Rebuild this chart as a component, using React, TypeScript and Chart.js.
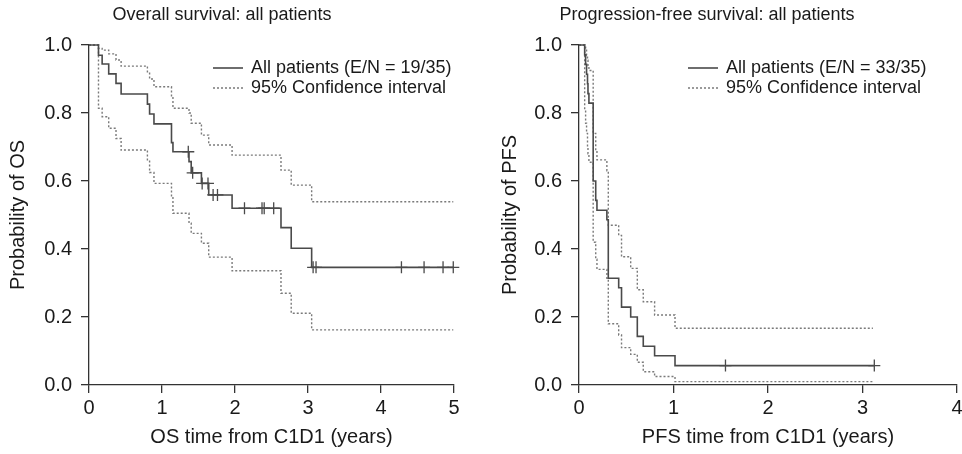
import React, { useEffect, useRef } from 'react';
import { Chart, registerables } from 'chart.js';

Chart.register(...registerables);

const FONT = '"Liberation Sans", Arial, Helvetica, sans-serif';
const TEXT = '#1a1a1a';
const AXIS = '#333333';
const MAIN = '#4a4a4a';
const CI = '#7a7a7a';

// ---------- Overall survival ----------
const osEventTimes = [0, 0.13, 0.18, 0.27, 0.37, 0.44, 0.8, 0.83, 0.89, 1.13, 1.15, 1.37, 1.4, 1.54, 1.64, 1.96, 2.63, 2.77, 3.05];
const osSurvival = [1, 0.97, 0.944, 0.915, 0.887, 0.856, 0.826, 0.797, 0.768, 0.713, 0.686, 0.657, 0.624, 0.593, 0.559, 0.52, 0.463, 0.402, 0.346];
const osUpper = [1, 0.99, 0.985, 0.974, 0.956, 0.938, 0.921, 0.9, 0.877, 0.848, 0.814, 0.8, 0.77, 0.735, 0.706, 0.676, 0.632, 0.588, 0.539];
const osLower = [1, 0.814, 0.789, 0.755, 0.725, 0.691, 0.662, 0.625, 0.593, 0.554, 0.505, 0.476, 0.446, 0.417, 0.376, 0.336, 0.27, 0.211, 0.162];
const osCensorTimes = [1.36, 1.42, 1.55, 1.63, 1.7, 1.76, 2.13, 2.37, 2.4, 2.53, 3.07, 3.11, 4.28, 4.59, 4.85, 4.99];
const osEndTime = 4.99;
const osXTickLabels = ['0', '1', '2', '3', '4', '5'];

// ---------- Progression-free survival ----------
const pfsEventTimes = [0, 0.06, 0.07, 0.08, 0.09, 0.095, 0.105, 0.15, 0.177, 0.19, 0.295, 0.31, 0.42, 0.45, 0.547, 0.617, 0.68, 0.8, 1.016];
const pfsSurvival = [1, 0.971, 0.943, 0.914, 0.886, 0.857, 0.829, 0.6, 0.543, 0.514, 0.486, 0.314, 0.286, 0.229, 0.2, 0.143, 0.114, 0.086, 0.057];
const pfsUpper = [1, 0.996, 0.985, 0.97, 0.955, 0.94, 0.925, 0.74, 0.69, 0.662, 0.63, 0.47, 0.44, 0.377, 0.343, 0.28, 0.245, 0.206, 0.167];
const pfsLower = [1, 0.81, 0.77, 0.74, 0.7, 0.68, 0.655, 0.42, 0.37, 0.34, 0.314, 0.18, 0.147, 0.11, 0.09, 0.067, 0.039, 0.025, 0.01];
const pfsCensorTimes = [1.55, 3.125];
const pfsEndTime = 3.125;
const pfsCIEndTime = 3.11;
const pfsXTickLabels = ['0', '1', '2', '3', '4'];

const yTickLabels = ['0.0', '0.2', '0.4', '0.6', '0.8', '1.0'];

function stepPoints(times: number[], values: number[], end: number) {
  const pts = times.map((t, i) => ({ x: t, y: values[i] }));
  pts.push({ x: end, y: values[values.length - 1] });
  return pts;
}

function valueAt(times: number[], values: number[], t: number) {
  let v = values[0];
  for (let i = 0; i < times.length; i++) if (times[i] <= t) v = values[i];
  return v;
}

const decorPlugin = {
  id: 'panelDecor',
  afterDraw(chart: any, _args: any, opts: any) {
    const ctx = chart.ctx;
    ctx.save();
    ctx.fillStyle = TEXT;
    ctx.font = `${opts.titleSize}px ${FONT}`;
    ctx.textAlign = 'center';
    ctx.textBaseline = 'middle';
    ctx.fillText(opts.title, opts.titleX, opts.titleY);
    let row = 0;
    chart.data.datasets.forEach((ds: any) => {
      if (!ds.label) return;
      const y = opts.legendY + row * opts.legendGap;
      ctx.beginPath();
      ctx.setLineDash(ds.borderDash || []);
      ctx.strokeStyle = ds.borderColor;
      ctx.lineWidth = ds.borderWidth;
      ctx.moveTo(opts.legendX, y);
      ctx.lineTo(opts.legendX + opts.sampleLen, y);
      ctx.stroke();
      ctx.setLineDash([]);
      ctx.font = `${opts.legendSize}px ${FONT}`;
      ctx.textAlign = 'left';
      ctx.fillStyle = TEXT;
      ctx.fillText(ds.label, opts.legendX + opts.sampleLen + opts.textGap, y);
      row++;
    });
    ctx.restore();
  },
};

type Panel = {
  times: number[];
  surv: number[];
  upper: number[];
  lower: number[];
  censor: number[];
  end: number;
  ciEnd: number;
  xMax: number;
  xTicks: string[];
  mainLabel: string;
  xTitle: string;
  yTitle: string;
  title: string;
  titleX: number;
  legendX: number;
  padRight: number;
  yTitlePad: number;
};

function makeConfig(p: Panel): any {
  const tickFont = { family: FONT, size: 20 };
  const titleFont = { family: FONT, size: 20 };
  const grid = { display: true, drawOnChartArea: false, drawTicks: true, tickLength: 8, color: AXIS, lineWidth: 1.3 };
  const border = { display: true, color: AXIS, width: 1.3 };
  return {
    type: 'line',
    data: {
      datasets: [
        {
          label: p.mainLabel,
          data: stepPoints(p.times, p.surv, p.end),
          stepped: 'before',
          borderColor: MAIN,
          borderWidth: 1.6,
          pointRadius: 0,
          fill: false,
          clip: false,
        },
        {
          label: '95% Confidence interval',
          data: stepPoints(p.times, p.upper, p.ciEnd),
          stepped: 'before',
          borderColor: CI,
          borderWidth: 1.4,
          borderDash: [2, 2],
          pointRadius: 0,
          fill: false,
          clip: false,
        },
        {
          label: '',
          data: stepPoints(p.times, p.lower, p.ciEnd),
          stepped: 'before',
          borderColor: CI,
          borderWidth: 1.4,
          borderDash: [2, 2],
          pointRadius: 0,
          fill: false,
          clip: false,
        },
        {
          label: '',
          data: p.censor.map((t) => ({ x: t, y: valueAt(p.times, p.surv, t) })),
          showLine: false,
          pointStyle: 'cross',
          pointRadius: 6,
          pointBorderColor: MAIN,
          pointBorderWidth: 1.3,
          borderColor: MAIN,
          clip: false,
        },
      ],
    },
    options: {
      animation: false,
      responsive: false,
      events: [],
      layout: { autoPadding: false, padding: { top: 45, right: p.padRight, left: 0, bottom: 0 } },
      plugins: {
        legend: { display: false },
        tooltip: { enabled: false },
        title: { display: false },
        panelDecor: {
          title: p.title,
          titleX: p.titleX,
          titleY: 15,
          titleSize: 18,
          legendX: p.legendX,
          legendY: 68,
          legendGap: 20,
          legendSize: 18,
          sampleLen: 30,
          textGap: 8,
        },
      },
      scales: {
        x: {
          type: 'linear',
          min: 0,
          max: p.xMax,
          afterFit: (s: any) => {
            s.height = 69;
            s.paddingLeft = 0;
            s.paddingRight = 0;
          },
          ticks: {
            stepSize: 1,
            autoSkip: false,
            maxRotation: 0,
            padding: 3,
            color: TEXT,
            font: tickFont,
            callback: (_v: any, i: number) => p.xTicks[i],
          },
          grid,
          border,
          title: { display: true, text: p.xTitle, color: TEXT, font: titleFont, padding: { top: 0, bottom: 5 } },
        },
        y: {
          type: 'linear',
          min: 0,
          max: 1,
          afterFit: (s: any) => {
            s.width = 89;
            s.paddingTop = 0;
            s.paddingBottom = 0;
          },
          ticks: {
            stepSize: 0.2,
            padding: 9,
            color: TEXT,
            font: tickFont,
            callback: (_v: any, i: number) => yTickLabels[i],
          },
          grid,
          border,
          title: { display: true, text: p.yTitle, color: TEXT, font: titleFont, padding: { top: p.yTitlePad, bottom: 0 } },
        },
      },
    },
    plugins: [decorPlugin],
  };
}

const osPanel: Panel = {
  times: osEventTimes,
  surv: osSurvival,
  upper: osUpper,
  lower: osLower,
  censor: osCensorTimes,
  end: osEndTime,
  ciEnd: osEndTime,
  xMax: 5,
  xTicks: osXTickLabels,
  mainLabel: 'All patients (E/N = 19/35)',
  xTitle: 'OS time from C1D1 (years)',
  yTitle: 'Probability of OS',
  title: 'Overall survival: all patients',
  titleX: 222,
  legendX: 213,
  padRight: 27,
  yTitlePad: 6,
};

const pfsPanel: Panel = {
  times: pfsEventTimes,
  surv: pfsSurvival,
  upper: pfsUpper,
  lower: pfsLower,
  censor: pfsCensorTimes,
  end: pfsEndTime,
  ciEnd: pfsCIEndTime,
  xMax: 4,
  xTicks: pfsXTickLabels,
  mainLabel: 'All patients (E/N = 33/35)',
  xTitle: 'PFS time from C1D1 (years)',
  yTitle: 'Probability of PFS',
  title: 'Progression-free survival: all patients',
  titleX: 217,
  legendX: 198,
  padRight: 5,
  yTitlePad: 8,
};

export default function App() {
  const leftRef = useRef<HTMLCanvasElement | null>(null);
  const rightRef = useRef<HTMLCanvasElement | null>(null);

  useEffect(() => {
    const charts: Chart[] = [];
    if (leftRef.current) charts.push(new Chart(leftRef.current, makeConfig(osPanel)));
    if (rightRef.current) charts.push(new Chart(rightRef.current, makeConfig(pfsPanel)));
    return () => charts.forEach((c) => c.destroy());
  }, []);

  return (
    <div style={{ position: 'absolute', left: 0, top: 0, width: 962, height: 454, background: '#ffffff' }}>
      <canvas ref={leftRef} width={481} height={454} style={{ position: 'absolute', left: 0, top: 0 }} />
      <canvas ref={rightRef} width={472} height={454} style={{ position: 'absolute', left: 490, top: 0 }} />
    </div>
  );
}
